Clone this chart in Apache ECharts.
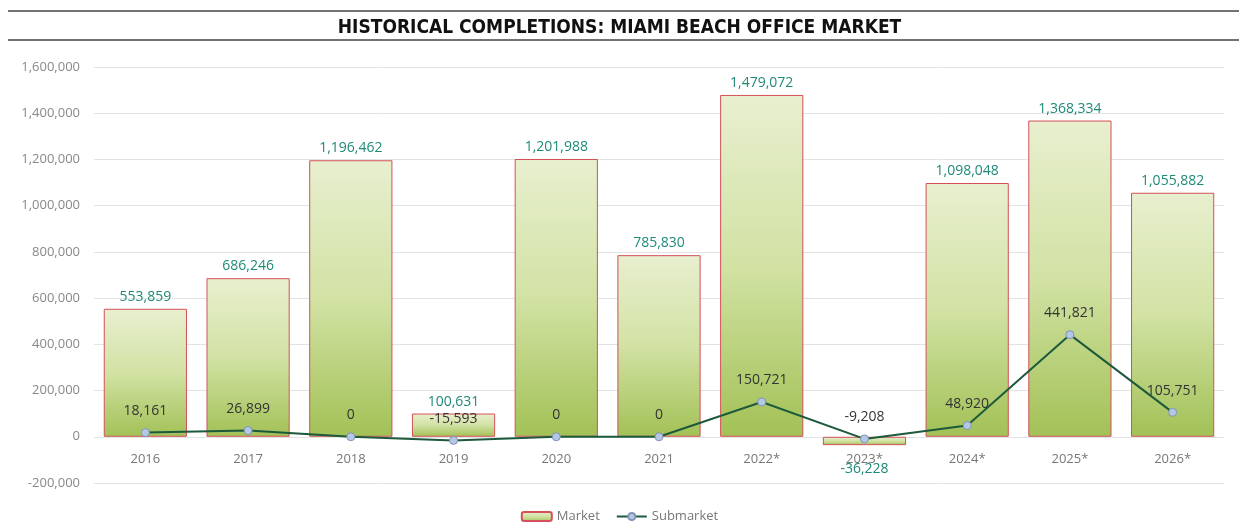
<!DOCTYPE html>
<html>
<head>
<meta charset="utf-8">
<script src="https://cdn.jsdelivr.net/npm/echarts@6/dist/echarts.min.js"></script>
<style>
  html, body { margin: 0; padding: 0; background: #fff; }
  #chart { width: 1239px; height: 525px; }
</style>
</head>
<body>
<div id="chart"></div>
<script>
const years = ['2016', '2017', '2018', '2019', '2020', '2021', '2022*', '2023*', '2024*', '2025*', '2026*']
const market = [553859, 686246, 1196462, 100631, 1201988, 785830, 1479072, -36228, 1098048, 1368334, 1055882]
const submarket = [18161, 26899, 0, -15593, 0, 0, 150721, -9208, 48920, 441821, 105751]

const fmt = v => v.toLocaleString('en-US')

const chart = echarts.init(document.getElementById('chart'))

const barFill = new echarts.graphic.LinearGradient(0, 0, 0, 1, [
  { offset: 0, color: '#e8efcf' },
  { offset: 0.5, color: '#d2e2a4' },
  { offset: 1, color: '#a2c156' }
])

chart.setOption({
  animation: false,
  textStyle: { fontFamily: 'Open Sans, sans-serif' },
  title: {
    text: 'HISTORICAL COMPLETIONS: MIAMI BEACH OFFICE MARKET',
    left: 'center',
    top: 14,
    textStyle: {
      fontFamily: 'DejaVu Sans Condensed, sans-serif',
      fontWeight: 'bold',
      fontSize: 19,
      color: '#111'
    }
  },
  graphic: [
    { type: 'line', shape: { x1: 8, y1: 11, x2: 1239, y2: 11 }, style: { stroke: '#444', lineWidth: 1.5 } },
    { type: 'line', shape: { x1: 8, y1: 40, x2: 1239, y2: 40 }, style: { stroke: '#444', lineWidth: 1.5 } }
  ],
  legend: {
    bottom: -3,
    left: 'center',
    itemWidth: 30,
    itemHeight: 9,
    itemGap: 16,
    textStyle: { color: '#777', fontSize: 13 },
    data: ['Market', 'Submarket']
  },
  grid: { left: 94, right: 15, top: 67, bottom: 42, containLabel: false },
  xAxis: {
    type: 'category',
    data: years,
    axisLine: { show: false },
    axisTick: { show: false },
    // labels sit just under the zero line, as in the original
    axisLabel: { color: '#777', fontSize: 13, margin: -30 }
  },
  yAxis: {
    type: 'value',
    min: -200000,
    max: 1600000,
    interval: 200000,
    axisLine: { show: false },
    axisTick: { show: false },
    splitLine: { lineStyle: { color: '#e3e3e3' } },
    axisLabel: { color: '#888', fontSize: 13, margin: 14, formatter: v => fmt(v) }
  },
  series: [
    {
      name: 'Market',
      type: 'bar',
      data: market,
      barWidth: '81%',
      itemStyle: { color: barFill, borderColor: '#d4505a', borderWidth: 1 },
      label: {
        show: true,
        position: 'top',
        color: '#1f8a78',
        fontSize: 14,
        formatter: p => fmt(p.value)
      },
      labelLayout: p => (p.dataIndex === 7 ? { dy: 44 } : {}),
      z: 1
    },
    {
      name: 'Submarket',
      type: 'line',
      data: submarket,
      symbol: 'circle',
      symbolSize: 8,
      lineStyle: { color: '#1d5a3c', width: 2 },
      itemStyle: { color: '#b4c8e6', borderColor: '#7f93b4', borderWidth: 1 },
      label: {
        show: true,
        position: 'top',
        distance: 10,
        color: '#333',
        fontSize: 14,
        formatter: p => fmt(p.value)
      },
      z: 3
    }
  ]
})
</script>
</body>
</html>
